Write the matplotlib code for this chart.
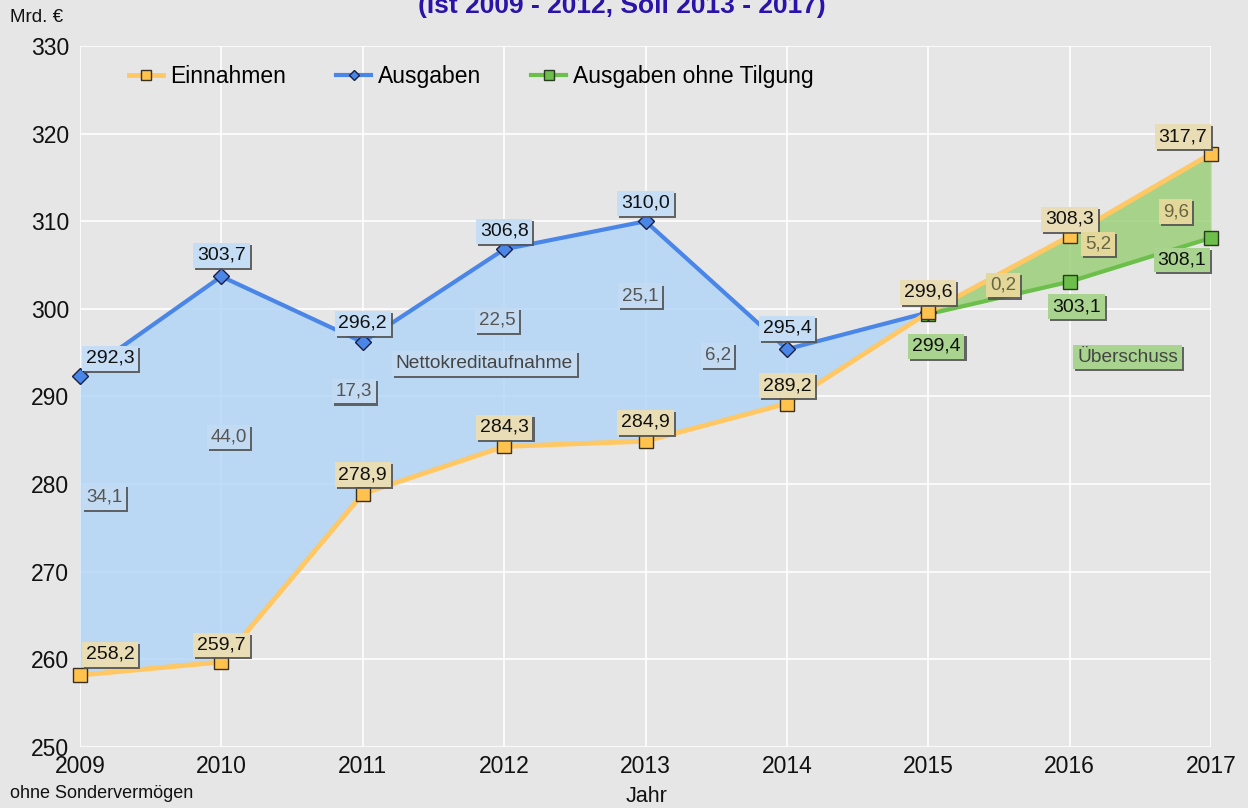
import matplotlib
matplotlib.use("Agg")
import matplotlib.pyplot as plt
import matplotlib.patheffects as pe

plt.rcParams['font.family'] = ['Liberation Sans', 'DejaVu Sans']

# ---------------- data ----------------
years = [2009, 2010, 2011, 2012, 2013, 2014, 2015, 2016, 2017]
einnahmen = [258.2, 259.7, 278.9, 284.3, 284.9, 289.2, 299.6, 308.3, 317.7]
ausgaben_years = [2009, 2010, 2011, 2012, 2013, 2014, 2015]
ausgaben = [292.3, 303.7, 296.2, 306.8, 310.0, 295.4, 299.6]
ohne_tilgung_years = [2015, 2016, 2017]
ohne_tilgung = [299.4, 303.1, 308.1]
yticks = [250, 260, 270, 280, 290, 300, 310, 320, 330]

# net borrowing 2009-2014, surplus 2015-2017
netto = [round(a - e, 1) for a, e in zip(ausgaben[:6], einnahmen[:6])]
ueberschuss = [round(e - g, 1) for e, g in zip(einnahmen[6:], ohne_tilgung)]

# ---------------- styles / positions ----------------
C_EIN = '#FFC864'
C_EIN_M = '#FFC34D'
C_AUS = '#4A86E8'
C_GRN = '#6CBF4A'
BG = '#E6E6E6'

def fmt(v):
    return f"{v:.1f}".replace('.', ',')

fig = plt.figure(figsize=(12.48, 8.08), dpi=100, facecolor=BG)
ax = fig.add_axes([80/1248, 1-747/808, 1131/1248, 701/808])
ax.set_facecolor(BG)
for s in ax.spines.values():
    s.set_visible(False)
ax.set_axisbelow(True)
ax.grid(True, color='white', lw=1.2)
ax.set_xlim(2009, 2017)
ax.set_ylim(250, 330)
ax.set_xticks(years)
ax.set_yticks(yticks)
ax.tick_params(length=0, labelsize=16.5, colors='#111111')
ax.tick_params(axis='x', pad=6)
ax.tick_params(axis='y', pad=8)

# fills
ax.fill_between(ausgaben_years, ausgaben, einnahmen[:7], color='#B0D4F7', alpha=0.8, lw=0, zorder=1)
ax.fill_between(ohne_tilgung_years, einnahmen[6:], ohne_tilgung, color='#96CF72', alpha=0.8, lw=0, zorder=1)

# lines
ax.plot(ohne_tilgung_years, ohne_tilgung, color=C_GRN, lw=3, marker='s', ms=10,
        mfc=C_GRN, mec='#2a3a20', mew=1, zorder=3, label='Ausgaben ohne Tilgung', clip_on=False)
ax.plot(ausgaben_years, ausgaben, color=C_AUS, lw=3, marker='D', ms=8,
        mfc=C_AUS, mec='#1a2040', mew=1, zorder=3, label='Ausgaben', clip_on=False)
ax.plot(years, einnahmen, color=C_EIN, lw=3.5, marker='s', ms=10,
        mfc=C_EIN_M, mec='#3a3020', mew=1, zorder=4, label='Einnahmen', clip_on=False)

def label(x, y, txt, dx, dy, face, tcolor='#111111', size=14):
    t = ax.annotate(txt, (x, y), xytext=(dx*0.72, dy*0.72), textcoords='offset points',
                    ha='center', va='center', fontsize=size, color=tcolor, zorder=6,
                    bbox=dict(boxstyle='square,pad=0.2', fc=face, ec='none'))
    t.get_bbox_patch().set_path_effects([
        pe.withSimplePatchShadow(offset=(1.5, -1.5), shadow_rgbFace='#555555', alpha=0.9),
        pe.Normal()])
    return t

# Ausgaben labels (pixel offsets from the point)
aus_off = [(30, -18), (0, -21), (0, -19), (0, -18), (0, -18), (0, -21)]
for x, y, (dx, dy) in zip(ausgaben_years[:6], ausgaben[:6], aus_off):
    label(x, y, fmt(y), dx, -dy, '#C5DDF5')

# Einnahmen labels
ein_off = [(30, 21), (0, 17), (0, 19), (0, 19), (0, 19), (0, 18), (0, 20), (0, 17), (-28, 17)]
for x, y, (dx, dy) in zip(years, einnahmen, ein_off):
    label(x, y, fmt(y), dx, dy, '#E9DDB5')

# Ausgaben ohne Tilgung labels
grn_off = [(8, -32), (7, -25), (-29, -22)]
for x, y, (dx, dy) in zip(ohne_tilgung_years, ohne_tilgung, grn_off):
    label(x, y, fmt(y), dx, dy, '#A9D48F')

# difference labels (placed in data coordinates)
netto_pos = [(2009.17, 278.5), (2010.05, 285.4), (2010.94, 290.6),
             (2011.95, 298.7), (2012.96, 301.5), (2013.51, 294.7)]
for v, (px, py) in zip(netto, netto_pos):
    label(px, py, fmt(v), 0, 0, '#C2DBF3', tcolor='#555555', size=13.5)
ueb_pos = [(2015.53, 302.7), (2016.20, 307.4), (2016.75, 311.1)]
for v, (px, py) in zip(ueberschuss, ueb_pos):
    label(px, py, fmt(v), 0, 0, '#E3D79A', tcolor='#666644', size=13.5)

label(2011.86, 293.8, 'Nettokreditaufnahme', 0, 0, '#C2DBF3', tcolor='#444444', size=13.8)
label(2016.41, 294.5, 'Überschuss', 0, 0, '#A9D48F', tcolor='#444444', size=13.8)

# legend
handles, labels_ = ax.get_legend_handles_labels()
order = [2, 1, 0]
leg = ax.legend([handles[i] for i in order], [labels_[i] for i in order],
                loc='center left', bbox_to_anchor=(0.025, 0.956), ncol=3, frameon=False,
                fontsize=16.5, handlelength=1.5, handletextpad=0.3, columnspacing=2.2,
                markerscale=0.65)

# texts
fig.text(0.498, 1 - 13/808, '(Ist 2009 - 2012, Soll 2013 - 2017)', ha='center', va='baseline',
         fontsize=19, fontweight='bold', color='#2B12A8')
fig.text(10/1248, 1 - 18/808, 'Mrd. €', ha='left', va='center', fontsize=13.5, color='#111111')
fig.text(10/1248, 1 - 793/808, 'ohne Sondervermögen', ha='left', va='center', fontsize=13, color='#111111')
fig.text(647/1248, 1 - 797/808, 'Jahr', ha='center', va='center', fontsize=15.5, color='#111111')

fig.savefig('out.png', dpi=100, facecolor=BG)
